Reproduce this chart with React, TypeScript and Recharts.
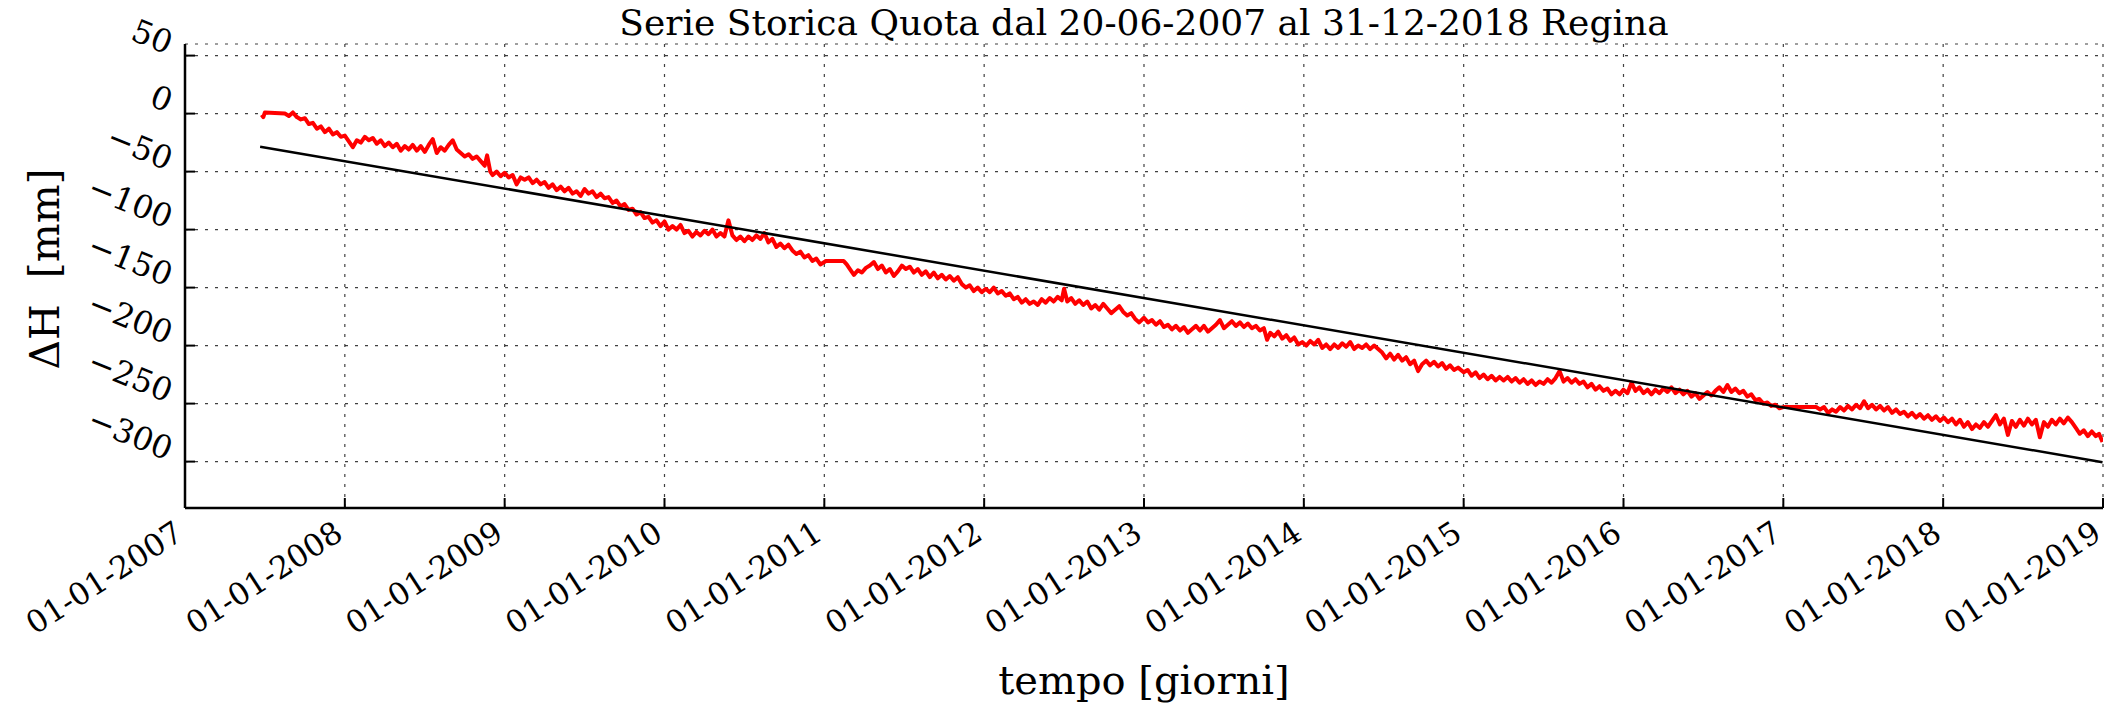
import React from 'react';
import { LineChart, Line, XAxis, YAxis, CartesianGrid } from 'recharts';

const FONT = '"DejaVu Serif", "Liberation Serif", serif';
const W = 2106;
const H = 704;

const titolo = 'Serie Storica Quota dal 20-06-2007 al 31-12-2018 Regina';
const etichettaX = 'tempo [giorni]';
const etichettaY = '\u0394H  [mm]';

const anniTick = [2007, 2008, 2009, 2010, 2011, 2012, 2013, 2014, 2015, 2016, 2017, 2018, 2019];
const quotaTick = [-300, -250, -200, -150, -100, -50, 0, 50];
const dominioX = [2007, 2019];
const dominioY = [-340, 60];

// [anno decimale, quota mm]
const serie2007: [number, number][] = [
  [2007.48, -1], [2007.49, -3], [2007.5, 1], [2007.625, 0], [2007.65, -2], [2007.675, 1],
  [2007.7, -3], [2007.725, -5], [2007.75, -4], [2007.775, -9], [2007.8, -8], [2007.825, -13],
  [2007.85, -11], [2007.875, -16], [2007.9, -13], [2007.925, -18], [2007.95, -16], [2007.975, -20],
];
const serie2008: [number, number][] = [
  [2008.0, -19], [2008.025, -24], [2008.05, -29], [2008.075, -23], [2008.1, -25], [2008.125, -20],
  [2008.15, -23], [2008.175, -21], [2008.2, -26], [2008.225, -23], [2008.25, -28], [2008.275, -25],
  [2008.3, -29], [2008.325, -26], [2008.35, -32], [2008.375, -28], [2008.4, -31], [2008.425, -27],
  [2008.45, -32], [2008.475, -28], [2008.5, -33], [2008.525, -27], [2008.55, -22], [2008.575, -34],
  [2008.6, -29], [2008.625, -32], [2008.65, -27], [2008.675, -23], [2008.7, -31], [2008.725, -34],
  [2008.75, -37], [2008.775, -35], [2008.8, -39], [2008.825, -37], [2008.85, -41], [2008.875, -45],
  [2008.89, -36], [2008.91, -50], [2008.925, -53], [2008.95, -50], [2008.975, -54],
];
const serie2009: [number, number][] = [
  [2009.0, -51], [2009.025, -55], [2009.05, -53], [2009.075, -61], [2009.1, -55], [2009.125, -57],
  [2009.15, -55], [2009.175, -60], [2009.2, -57], [2009.225, -61], [2009.25, -59], [2009.275, -64],
  [2009.3, -61], [2009.325, -66], [2009.35, -63], [2009.375, -67], [2009.4, -64], [2009.425, -69],
  [2009.45, -67], [2009.475, -71], [2009.5, -65], [2009.525, -69], [2009.55, -67], [2009.575, -72],
  [2009.6, -69], [2009.625, -73], [2009.65, -72], [2009.675, -77], [2009.7, -75], [2009.725, -80],
  [2009.75, -78], [2009.775, -83], [2009.8, -82], [2009.825, -87], [2009.85, -85], [2009.875, -90],
  [2009.9, -89], [2009.925, -94], [2009.95, -92], [2009.975, -97],
];
const serie2010: [number, number][] = [
  [2010.0, -93], [2010.025, -100], [2010.05, -97], [2010.075, -100], [2010.1, -96], [2010.125, -103],
  [2010.15, -101], [2010.175, -106], [2010.2, -102], [2010.225, -105], [2010.25, -101], [2010.275, -104],
  [2010.3, -100], [2010.325, -106], [2010.35, -103], [2010.375, -106], [2010.4, -92], [2010.425, -105],
  [2010.45, -109], [2010.475, -106], [2010.5, -110], [2010.525, -106], [2010.55, -109], [2010.575, -105],
  [2010.6, -108], [2010.625, -103], [2010.65, -111], [2010.675, -108], [2010.7, -115], [2010.725, -112],
  [2010.75, -116], [2010.775, -113], [2010.8, -118], [2010.825, -121], [2010.85, -119], [2010.875, -124],
  [2010.9, -122], [2010.925, -127], [2010.95, -125], [2010.975, -130],
];
const serie2011: [number, number][] = [
  [2011.0, -128], [2011.01, -127], [2011.12, -127], [2011.14, -130], [2011.16, -134], [2011.185, -139],
  [2011.21, -135], [2011.235, -137], [2011.26, -133], [2011.285, -131], [2011.31, -128], [2011.335, -134],
  [2011.36, -131], [2011.385, -137], [2011.41, -134], [2011.435, -140], [2011.46, -136], [2011.485, -131],
  [2011.51, -134], [2011.535, -132], [2011.56, -137], [2011.585, -134], [2011.61, -139], [2011.635, -136],
  [2011.66, -141], [2011.685, -137], [2011.71, -142], [2011.735, -139], [2011.76, -143], [2011.785, -140],
  [2011.81, -144], [2011.835, -141], [2011.86, -147], [2011.885, -150], [2011.91, -148], [2011.935, -153],
  [2011.96, -150], [2011.985, -154],
];
const serie2012: [number, number][] = [
  [2012.01, -151], [2012.035, -154], [2012.06, -150], [2012.085, -155], [2012.11, -153], [2012.135, -157],
  [2012.16, -155], [2012.185, -160], [2012.21, -158], [2012.235, -163], [2012.26, -160], [2012.285, -164],
  [2012.31, -162], [2012.335, -165], [2012.36, -160], [2012.385, -163], [2012.41, -159], [2012.435, -162],
  [2012.46, -158], [2012.485, -161], [2012.5, -151], [2012.52, -162], [2012.545, -159], [2012.57, -164],
  [2012.595, -161], [2012.62, -165], [2012.645, -162], [2012.67, -168], [2012.695, -165], [2012.72, -169],
  [2012.745, -164], [2012.77, -168], [2012.795, -172], [2012.82, -169], [2012.845, -166], [2012.87, -171],
  [2012.895, -174], [2012.92, -172], [2012.945, -177], [2012.97, -180],
];
const serie2013: [number, number][] = [
  [2013.0, -176], [2013.025, -180], [2013.05, -178], [2013.075, -182], [2013.1, -179], [2013.125, -184],
  [2013.15, -182], [2013.175, -186], [2013.2, -183], [2013.225, -187], [2013.25, -184], [2013.275, -189],
  [2013.3, -186], [2013.325, -183], [2013.35, -187], [2013.375, -183], [2013.4, -188], [2013.425, -185],
  [2013.45, -182], [2013.475, -178], [2013.5, -185], [2013.525, -182], [2013.55, -179], [2013.575, -183],
  [2013.6, -180], [2013.625, -184], [2013.65, -181], [2013.675, -185], [2013.7, -183], [2013.725, -187],
  [2013.75, -185], [2013.77, -195], [2013.79, -189], [2013.815, -192], [2013.84, -188], [2013.865, -194],
  [2013.89, -191], [2013.915, -196], [2013.94, -193], [2013.965, -199], [2013.99, -197],
];
const serie2014: [number, number][] = [
  [2014.015, -200], [2014.04, -196], [2014.065, -199], [2014.09, -195], [2014.115, -202], [2014.14, -199],
  [2014.165, -203], [2014.19, -199], [2014.215, -202], [2014.24, -198], [2014.265, -201], [2014.29, -197],
  [2014.315, -203], [2014.34, -200], [2014.365, -202], [2014.39, -199], [2014.415, -203], [2014.44, -200],
  [2014.465, -203], [2014.49, -206], [2014.515, -211], [2014.54, -207], [2014.565, -212], [2014.59, -208],
  [2014.615, -213], [2014.64, -210], [2014.665, -216], [2014.69, -213], [2014.715, -222], [2014.74, -216],
  [2014.765, -213], [2014.79, -217], [2014.815, -214], [2014.84, -218], [2014.865, -215], [2014.89, -220],
  [2014.915, -217], [2014.94, -221], [2014.965, -219],
];
const serie2015: [number, number][] = [
  [2015.0, -223], [2015.025, -221], [2015.05, -226], [2015.075, -223], [2015.1, -228], [2015.125, -225],
  [2015.15, -229], [2015.175, -226], [2015.2, -230], [2015.225, -227], [2015.25, -230], [2015.275, -227],
  [2015.3, -231], [2015.325, -228], [2015.35, -232], [2015.375, -229], [2015.4, -233], [2015.425, -230],
  [2015.45, -234], [2015.475, -231], [2015.5, -233], [2015.525, -229], [2015.55, -232], [2015.575, -228],
  [2015.6, -222], [2015.625, -231], [2015.65, -228], [2015.675, -232], [2015.7, -229], [2015.725, -233],
  [2015.75, -231], [2015.775, -236], [2015.8, -233], [2015.825, -238], [2015.85, -235], [2015.875, -239],
  [2015.9, -237], [2015.925, -242], [2015.95, -239], [2015.975, -242],
];
const serie2016: [number, number][] = [
  [2016.0, -238], [2016.025, -241], [2016.05, -232], [2016.075, -239], [2016.1, -236], [2016.125, -241],
  [2016.15, -238], [2016.175, -242], [2016.2, -238], [2016.225, -241], [2016.25, -237], [2016.275, -240],
  [2016.3, -236], [2016.325, -241], [2016.35, -238], [2016.375, -242], [2016.4, -239], [2016.425, -244],
  [2016.45, -241], [2016.475, -246], [2016.5, -243], [2016.525, -240], [2016.55, -243], [2016.575, -239],
  [2016.6, -236], [2016.625, -240], [2016.65, -234], [2016.675, -240], [2016.7, -237], [2016.725, -241],
  [2016.75, -239], [2016.775, -244], [2016.8, -242], [2016.825, -247], [2016.85, -246], [2016.875, -250],
  [2016.9, -249], [2016.925, -252], [2016.95, -251], [2016.975, -254],
];
const serie2017: [number, number][] = [
  [2017.0, -253], [2017.205, -253], [2017.23, -255], [2017.255, -253], [2017.28, -258], [2017.305, -255],
  [2017.33, -257], [2017.355, -253], [2017.38, -256], [2017.405, -252], [2017.43, -255], [2017.455, -251],
  [2017.48, -254], [2017.505, -248], [2017.53, -254], [2017.555, -251], [2017.58, -255], [2017.605, -252],
  [2017.63, -256], [2017.655, -253], [2017.68, -258], [2017.705, -255], [2017.73, -259], [2017.755, -257],
  [2017.78, -261], [2017.805, -258], [2017.83, -262], [2017.855, -259], [2017.88, -263], [2017.905, -260],
  [2017.93, -264], [2017.955, -261], [2017.98, -265],
];
const serie2018: [number, number][] = [
  [2018.005, -262], [2018.03, -266], [2018.055, -263], [2018.08, -268], [2018.105, -264], [2018.13, -270],
  [2018.155, -266], [2018.18, -272], [2018.205, -268], [2018.23, -271], [2018.255, -266], [2018.28, -270],
  [2018.305, -265], [2018.33, -260], [2018.355, -268], [2018.38, -263], [2018.405, -277], [2018.43, -265],
  [2018.455, -270], [2018.48, -264], [2018.505, -269], [2018.53, -263], [2018.555, -268], [2018.58, -264],
  [2018.605, -279], [2018.63, -266], [2018.655, -270], [2018.68, -264], [2018.705, -268], [2018.73, -263],
  [2018.755, -267], [2018.78, -262], [2018.805, -266], [2018.83, -271], [2018.855, -276], [2018.88, -273],
  [2018.905, -278], [2018.93, -274], [2018.955, -278], [2018.975, -276], [2018.997, -283],
];

// retta di regressione: estremi
const rettaInizio: [number, number] = [2007.47, -28.5];
const rettaFine: [number, number] = [2018.997, -300.5];

const datiQuota = [
  ...serie2007, ...serie2008, ...serie2009, ...serie2010, ...serie2011, ...serie2012,
  ...serie2013, ...serie2014, ...serie2015, ...serie2016, ...serie2017, ...serie2018,
].map(([t, v]) => ({ t, v }));
const datiRetta = [rettaInizio, rettaFine].map(([t, v]) => ({ t, f: v }));

const fmtMeno = (v: number) => (v < 0 ? '\u2212' + Math.abs(v) : String(v));

function TickBasso(props: any) {
  const { x, y, payload } = props;
  return (
    <g>
      <line x1={x} x2={x} y1={y} y2={y - 10} stroke="#000" strokeWidth={2} />
      <text
        transform={`translate(${x},${y + 30}) rotate(-33)`}
        textAnchor="end"
        fontFamily={FONT}
        fontSize={31}
        fill="#000"
      >
        {`01-01-${payload.value}`}
      </text>
    </g>
  );
}
function TickAlto(props: any) {
  const { x, y } = props;
  return <line x1={x} x2={x} y1={y} y2={y + 10} stroke="#000" strokeWidth={2} />;
}
function TickSinistra(props: any) {
  const { x, y, payload } = props;
  return (
    <g>
      <line x1={x} x2={x + 10} y1={y} y2={y} stroke="#000" strokeWidth={2} />
      <text
        transform={`translate(${x - 18},${y - 1}) rotate(22)`}
        textAnchor="end"
        fontFamily={FONT}
        fontSize={32}
        fill="#000"
      >
        {fmtMeno(payload.value)}
      </text>
    </g>
  );
}
function TickDestra(props: any) {
  const { x, y } = props;
  return <line x1={x} x2={x - 10} y1={y} y2={y} stroke="#000" strokeWidth={2} />;
}

export default function App() {
  return (
    <div style={{ position: 'absolute', left: 0, top: 0, width: W, height: H, background: '#fff' }}>
      <LineChart width={W} height={H} margin={{ top: 44, right: 3, bottom: 0, left: 0 }}>
        <CartesianGrid stroke="#000" strokeOpacity={0.75} strokeWidth={1.2} strokeDasharray="3 7" />
        <XAxis
          dataKey="t"
          type="number"
          domain={dominioX}
          ticks={anniTick}
          interval={0}
          allowDataOverflow
          height={196}
          tickSize={0}
          tickMargin={0}
          tickLine={false}
          axisLine={{ stroke: '#000', strokeWidth: 2.5 }}
          tick={<TickBasso />}
        />
        <XAxis
          xAxisId="alto"
          orientation="top"
          type="number"
          domain={dominioX}
          ticks={anniTick}
          interval={0}
          allowDataOverflow
          height={0}
          tickSize={0}
          tickMargin={0}
          tickLine={false}
          axisLine={{ stroke: '#000', strokeWidth: 2.5 }}
          tick={<TickAlto />}
        />
        <YAxis
          type="number"
          domain={dominioY}
          ticks={quotaTick}
          interval={0}
          allowDataOverflow
          width={185}
          tickSize={0}
          tickMargin={0}
          tickLine={false}
          axisLine={{ stroke: '#000', strokeWidth: 2.5 }}
          tick={<TickSinistra />}
        />
        <YAxis
          yAxisId="destra"
          orientation="right"
          type="number"
          domain={dominioY}
          ticks={quotaTick}
          interval={0}
          allowDataOverflow
          width={0}
          tickSize={0}
          tickMargin={0}
          tickLine={false}
          axisLine={{ stroke: '#000', strokeWidth: 2.5 }}
          tick={<TickDestra />}
        />
        <Line
          data={datiQuota}
          dataKey="v"
          type="linear"
          stroke="#ff0000"
          strokeWidth={4}
          strokeLinejoin="round"
          dot={false}
          isAnimationActive={false}
        />
        <Line
          data={datiRetta}
          dataKey="f"
          type="linear"
          stroke="#000"
          strokeWidth={2.5}
          dot={false}
          isAnimationActive={false}
        />
      </LineChart>
      <svg
        width={W}
        height={H}
        style={{ position: 'absolute', left: 0, top: 0, pointerEvents: 'none' }}
      >
        <text x={1144} y={35} textAnchor="middle" fontFamily={FONT} fontSize={36} fill="#000">
          {titolo}
        </text>
        <text x={1144} y={694} textAnchor="middle" fontFamily={FONT} fontSize={40} fill="#000">
          {etichettaX}
        </text>
        <text
          transform="translate(59,269) rotate(-90)"
          textAnchor="middle"
          fontFamily={FONT}
          fontSize={41}
          fill="#000"
          style={{ whiteSpace: 'pre' }}
        >
          {etichettaY}
        </text>
      </svg>
    </div>
  );
}
